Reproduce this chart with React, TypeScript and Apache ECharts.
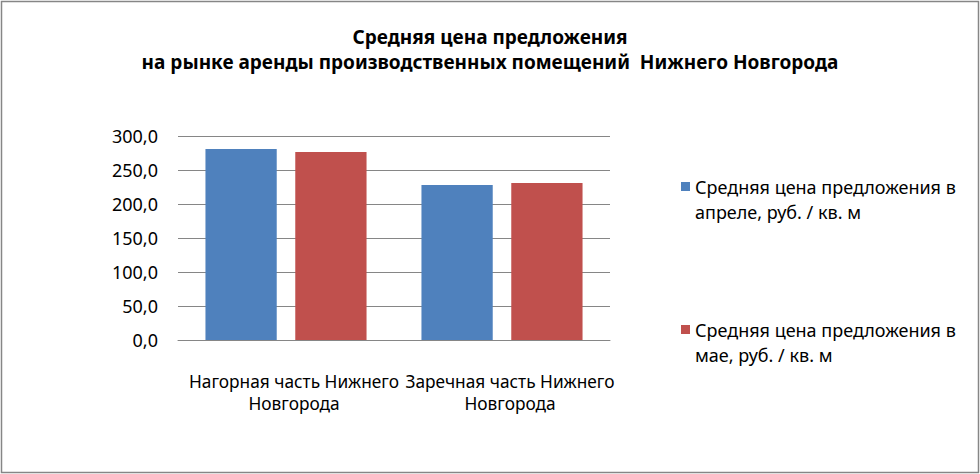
import React, { useEffect, useRef } from "react";
import * as echarts from "echarts";

const categories = ["Нагорная часть Нижнего\nНовгорода", "Заречная часть Нижнего\nНовгорода"];
const seriesNames = [
  "Средняя цена предложения в\nапреле, руб. / кв. м",
  "Средняя цена предложения в\nмае, руб. / кв. м",
];
const aprilValues = [281, 228];
const mayValues = [276.5, 231];
const titleLines = [
  "Средняя цена предложения",
  "на рынке аренды производственных помещений  Нижнего Новгорода",
];

const FONT = "'Noto Sans', sans-serif";

export default function App() {
  const ref = useRef<HTMLDivElement>(null);
  useEffect(() => {
    if (!ref.current) return;
    const chart = echarts.init(ref.current, undefined, { renderer: "svg" });
    chart.setOption({
      animation: false,
      backgroundColor: "#ffffff",
      textStyle: { fontFamily: FONT },
      title: {
        text: titleLines.join("\n"),
        left: "center",
        top: 19,
        textStyle: { fontFamily: FONT, fontSize: 19, fontWeight: "bold", color: "#000", lineHeight: 25 },
      },
      graphic: [
        {
          type: "rect",
          shape: { x: 1.5, y: 1.5, width: 977, height: 471 },
          style: { fill: "none", stroke: "#868686", lineWidth: 1.5 },
          silent: true,
        },
      ],
      legend: {
        orient: "vertical",
        left: 676,
        top: 144,
        itemWidth: 9,
        itemHeight: 9,
        itemGap: 68,
        icon: "rect",
        formatter: (n: string) => "\n" + n,
        textStyle: { fontFamily: FONT, fontSize: 18, color: "#000", lineHeight: 25 },
        data: seriesNames,
      },
      grid: { left: 178, right: 370, top: 136, bottom: 134 },
      xAxis: {
        type: "category",
        data: categories,
        axisTick: { show: false },
        axisLine: { lineStyle: { color: "#868686" } },
        axisLabel: {
          color: "#000",
          fontSize: 17.3,
          lineHeight: 22,
          margin: 30,
          interval: 0,
          padding: [0, 0, 0, 16],
          hideOverlap: false,
        },
      },
      yAxis: {
        type: "value",
        min: 0,
        max: 300,
        interval: 50,
        axisLine: { show: false },
        axisTick: { show: false },
        splitLine: { lineStyle: { color: "#868686" } },
        axisLabel: {
          color: "#000",
          fontSize: 18,
          margin: 20,
          formatter: (v: number) => v.toFixed(1).replace(".", ","),
        },
      },
      series: [
        { name: seriesNames[0], type: "bar", data: aprilValues, barWidth: "33%", barGap: "26%", itemStyle: { color: "#4f81bd" } },
        { name: seriesNames[1], type: "bar", data: mayValues, barWidth: "33%", barGap: "26%", itemStyle: { color: "#c0504d" } },
      ],
    });
    return () => chart.dispose();
  }, []);
  return <div ref={ref} style={{ position: "fixed", left: 0, top: 0, width: 980, height: 474 }} />;
}
